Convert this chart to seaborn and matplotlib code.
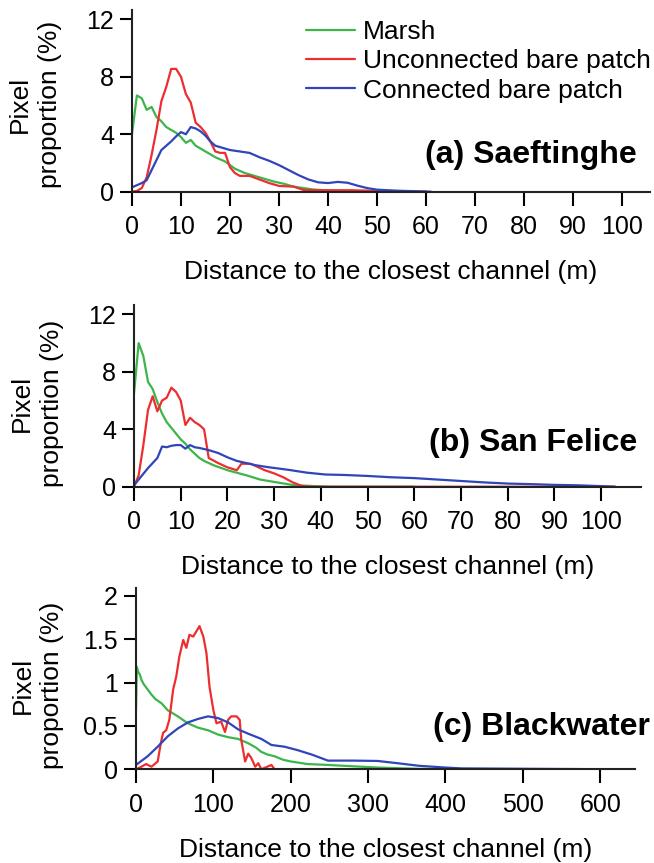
"""Pixel proportion versus distance to the closest channel, three marsh sites."""

import matplotlib

matplotlib.use("Agg")
import matplotlib.pyplot as plt
import pandas as pd
import seaborn as sns

CLASSES = ["Marsh", "Unconnected bare patch", "Connected bare patch"]
COLORS = ["#3db54a", "#ec2e30", "#2f45b8"]

# (a) Saeftinghe
A_MARSH_X = [0, 1, 2, 3, 4, 5, 6, 7, 8, 9, 10, 11, 12, 13, 15, 17, 19, 21, 23, 25, 27, 29, 31, 33, 35, 37, 40, 45, 50]
A_MARSH_Y = [4.0, 6.7, 6.5, 5.7, 5.9, 5.2, 4.9, 4.5, 4.3, 4.1, 3.8, 3.4, 3.6, 3.2, 2.8, 2.4, 2.1, 1.6, 1.3, 1.1, 0.9,
             0.7, 0.55, 0.35, 0.25, 0.15, 0.08, 0.03, 0.0]
A_UNCON_X = [0, 1, 2, 3, 4, 5, 6, 7, 8, 9, 10, 11, 12, 13, 14, 15, 16, 17, 18, 19, 20, 21, 22, 24, 26, 28, 30, 33, 35,
             40, 45, 50, 55, 60]
A_UNCON_Y = [0.0, 0.05, 0.25, 1.0, 2.55, 4.3, 6.3, 7.3, 8.55, 8.55, 8.0, 6.8, 6.2, 4.8, 4.5, 4.1, 3.5, 2.8, 2.7, 2.7,
             1.7, 1.3, 1.1, 1.1, 0.85, 0.6, 0.4, 0.35, 0.12, 0.1, 0.1, 0.05, 0.02, 0.0]
A_CON_X = [0, 1, 2, 3, 4, 5, 6, 7, 8, 9, 10, 11, 12, 13, 14, 15, 16, 17, 18, 20, 22, 24, 26, 28, 30, 32, 34, 36, 38,
           40, 42, 44, 46, 48, 50, 54, 58, 61]
A_CON_Y = [0.3, 0.45, 0.6, 0.8, 1.5, 2.2, 2.9, 3.2, 3.5, 3.85, 4.15, 4.0, 4.5, 4.4, 4.2, 3.9, 3.5, 3.2, 3.1, 2.9, 2.8,
           2.7, 2.4, 2.15, 1.85, 1.5, 1.15, 0.85, 0.65, 0.6, 0.68, 0.62, 0.42, 0.25, 0.14, 0.07, 0.03, 0.0]

# (b) San Felice
B_MARSH_X = [0, 1, 2, 3, 4, 5, 6, 7, 8, 9, 10, 11, 12, 13, 14, 15, 17, 20, 24, 27, 31, 34, 38, 42, 50, 60]
B_MARSH_Y = [6.5, 10.0, 9.1, 7.3, 6.8, 5.9, 5.1, 4.5, 4.1, 3.7, 3.3, 3.0, 2.6, 2.3, 2.0, 1.8, 1.5, 1.15, 0.8, 0.5,
             0.28, 0.12, 0.05, 0.0, 0.0, 0.0]
B_UNCON_X = [0, 1, 2, 3, 4, 5, 6, 7, 8, 9, 10, 11, 12, 13, 14, 15, 16, 18, 20, 22, 23, 25, 28, 30, 32, 34, 36, 38, 60,
             80, 103]
B_UNCON_Y = [0.0, 0.8, 2.9, 5.35, 6.3, 5.25, 6.0, 6.2, 6.9, 6.6, 6.0, 4.3, 4.8, 4.5, 4.3, 4.0, 2.0, 1.65, 1.35, 1.15,
             1.6, 1.6, 1.15, 0.93, 0.65, 0.3, 0.05, 0.0, 0.0, 0.0, 0.0]
B_CON_X = [0, 1, 2, 3, 4, 5, 6, 7, 8, 9, 10, 11, 12, 13, 14, 16, 18, 20, 22, 24, 26, 29, 33, 37, 41, 45, 50, 55, 60,
           65, 70, 75, 80, 85, 90, 95, 100, 103]
B_CON_Y = [0.1, 0.5, 0.9, 1.3, 1.65, 2.0, 2.8, 2.75, 2.85, 2.9, 2.9, 2.65, 2.9, 2.75, 2.7, 2.55, 2.35, 2.05, 1.8, 1.65,
           1.5, 1.35, 1.18, 0.98, 0.85, 0.82, 0.75, 0.66, 0.6, 0.5, 0.4, 0.3, 0.22, 0.18, 0.13, 0.1, 0.04, 0.0]

# (c) Blackwater
C_MARSH_X = [0, 1, 3, 5, 7, 10, 15, 20, 25, 33, 41, 54, 67, 80, 93, 106, 119, 132, 145, 155, 162, 170, 179, 190, 200,
             222, 248, 258, 280, 312, 340, 366, 400, 450, 520]
C_MARSH_Y = [0.7, 1.18, 1.12, 1.09, 1.03, 0.98, 0.92, 0.86, 0.81, 0.76, 0.68, 0.61, 0.53, 0.48, 0.45, 0.40, 0.37,
             0.35, 0.30, 0.25, 0.20, 0.17, 0.15, 0.11, 0.09, 0.06, 0.05, 0.045, 0.035, 0.02, 0.012, 0.005, 0.003,
             0.002, 0.0]
C_UNCON_X = [0, 7, 13, 20, 28, 32, 35, 39, 43, 48, 52, 56, 61, 65, 69, 74, 78, 82, 87, 91, 95, 100, 104, 110, 115,
             119, 123, 130, 134, 136, 141, 145, 149, 154, 158, 162, 175, 179, 300, 450, 610]
C_UNCON_Y = [0.0, 0.03, 0.06, 0.03, 0.09, 0.3, 0.42, 0.45, 0.57, 0.92, 1.07, 1.30, 1.49, 1.40, 1.55, 1.53, 1.59,
             1.65, 1.53, 1.34, 0.95, 0.68, 0.53, 0.55, 0.43, 0.57, 0.61, 0.61, 0.57, 0.34, 0.09, 0.18, 0.13, 0.03,
             0.07, 0.0, 0.05, 0.0, 0.0, 0.0, 0.0]
C_CON_X = [0, 15, 28, 41, 54, 67, 80, 93, 106, 119, 132, 145, 162, 175, 192, 209, 227, 248, 258, 280, 312, 338, 366,
           400, 421, 460, 519, 560, 613]
C_CON_Y = [0.05, 0.15, 0.26, 0.38, 0.47, 0.54, 0.58, 0.61, 0.59, 0.54, 0.46, 0.41, 0.35, 0.28, 0.26, 0.22, 0.17, 0.10,
           0.10, 0.10, 0.096, 0.07, 0.04, 0.02, 0.01, 0.008, 0.005, 0.003, 0.0]

PANELS = [
    {
        "title": "(a) Saeftinghe", "title_xy": (0.975, 0.20), "ylabel_xy": (-0.135, 0.48),
        "series": [(A_MARSH_X, A_MARSH_Y), (A_UNCON_X, A_UNCON_Y), (A_CON_X, A_CON_Y)],
        "rect": [0.2018, 0.7779, 0.792, 0.2105],
        "xlim": (0, 105.7), "xticks": list(range(0, 101, 10)),
        "ylim": (0, 12.65), "yticks": [0, 4, 8, 12], "yticklabels": ["0", "4", "8", "12"],
    },
    {
        "title": "(b) San Felice", "title_xy": (0.992, 0.24), "ylabel_xy": (-0.138, 0.46),
        "series": [(B_MARSH_X, B_MARSH_Y), (B_UNCON_X, B_UNCON_Y), (B_CON_X, B_CON_Y)],
        "rect": [0.2049, 0.4360, 0.775, 0.2105],
        "xlim": (0, 108.5), "xticks": list(range(0, 101, 10)),
        "ylim": (0, 12.65), "yticks": [0, 4, 8, 12], "yticklabels": ["0", "4", "8", "12"],
    },
    {
        "title": "(c) Blackwater", "title_xy": (1.03, 0.233), "ylabel_xy": (-0.144, 0.46),
        "series": [(C_MARSH_X, C_MARSH_Y), (C_UNCON_X, C_UNCON_Y), (C_CON_X, C_CON_Y)],
        "rect": [0.2080, 0.1086, 0.763, 0.2101],
        "xlim": (0, 645), "xticks": list(range(0, 601, 100)),
        "ylim": (0, 2.09), "yticks": [0, 0.5, 1, 1.5, 2], "yticklabels": ["0", "0.5", "1", "1.5", "2"],
    },
]


def to_long(series):
    frames = []
    for name, (xs, ys) in zip(CLASSES, series):
        frames.append(pd.DataFrame({"distance": xs, "proportion": ys, "class": name}))
    return pd.concat(frames, ignore_index=True)


sns.set_style("ticks")
plt.rcParams["font.family"] = ["Liberation Sans", "DejaVu Sans"]
plt.rcParams["axes.linewidth"] = 1.5
plt.rcParams["text.color"] = "black"
plt.rcParams["axes.labelcolor"] = "black"

fig = plt.figure(figsize=(6.54, 8.63), dpi=100)

for i, panel in enumerate(PANELS):
    ax = fig.add_axes(panel["rect"])
    data = to_long(panel["series"])
    sns.lineplot(
        data=data, x="distance", y="proportion", hue="class",
        hue_order=CLASSES, palette=COLORS, linewidth=1.6,
        estimator=None, sort=False, legend=(i == 0), ax=ax,
    )
    ax.set_xlim(*panel["xlim"])
    ax.set_ylim(*panel["ylim"])
    ax.set_xticks(panel["xticks"])
    ax.set_yticks(panel["yticks"])
    ax.set_yticklabels(panel["yticklabels"])
    ax.tick_params(axis="both", direction="out", width=1.5, labelsize=18, colors="black")
    ax.tick_params(axis="x", length=10, pad=7)
    ax.tick_params(axis="y", length=9, pad=4)
    for side in ("top", "right"):
        ax.spines[side].set_visible(False)
    for side in ("left", "bottom"):
        ax.spines[side].set_color("#222222")
    ax.set_xlabel("Distance to the closest channel (m)", fontsize=19, labelpad=15)
    ax.set_ylabel("Pixel\nproportion (%)", fontsize=19, linespacing=1.3)
    ax.yaxis.set_label_coords(*panel["ylabel_xy"])
    ax.text(*panel["title_xy"], panel["title"], transform=ax.transAxes, ha="right", va="center",
            fontsize=23, fontweight="bold")
    if i == 0:
        ax.legend(
            loc="upper left", bbox_to_anchor=(306 / 654, 1 - 20 / 863), bbox_transform=fig.transFigure,
            frameon=False, fontsize=19, handlelength=1.85, handletextpad=0.3, labelspacing=0.2,
            borderpad=0, borderaxespad=0, title=None,
        )

fig.savefig("out.png", dpi=100)
plt.close(fig)
